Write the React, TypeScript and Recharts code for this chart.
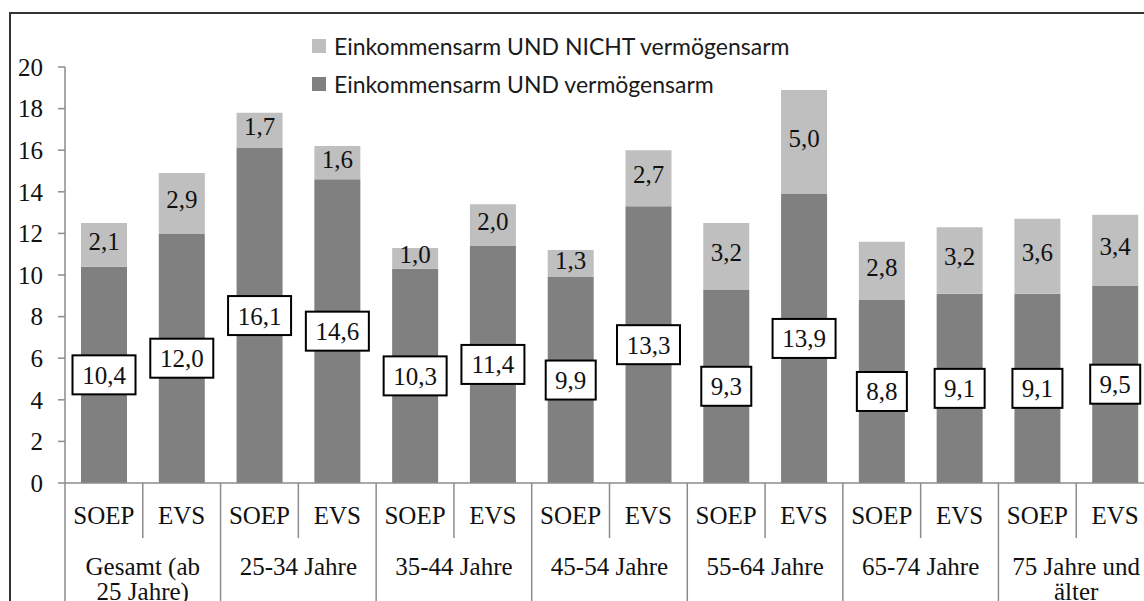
import React from 'react';
import { BarChart, Bar, XAxis, YAxis, Legend, LabelList } from 'recharts';

// Quelle je Altersgruppe: SOEP / EVS
const sources = ['SOEP', 'EVS', 'SOEP', 'EVS', 'SOEP', 'EVS', 'SOEP', 'EVS', 'SOEP', 'EVS', 'SOEP', 'EVS', 'SOEP', 'EVS'];
const ageGroups = [
  ['Gesamt (ab', '25 Jahre)'],
  ['25-34 Jahre'],
  ['35-44 Jahre'],
  ['45-54 Jahre'],
  ['55-64 Jahre'],
  ['65-74 Jahre'],
  ['75 Jahre und', 'älter'],
];
const armUndVermoegensarm = [10.4, 12.0, 16.1, 14.6, 10.3, 11.4, 9.9, 13.3, 9.3, 13.9, 8.8, 9.1, 9.1, 9.5];
const armNichtVermoegensarm = [2.1, 2.9, 1.7, 1.6, 1.0, 2.0, 1.3, 2.7, 3.2, 5.0, 2.8, 3.2, 3.6, 3.4];
const yTicks = [0, 2, 4, 6, 8, 10, 12, 14, 16, 18, 20];

const CHART_W = 1164;
const CHART_H = 601;
const Y_AXIS_W = 65;
const MARGIN_R = 10;
const SLOT = (CHART_W - Y_AXIS_W - MARGIN_R) / sources.length;

const SERIF = '"Liberation Serif", "Times New Roman", serif';
const DARK = '#808080';
const LIGHT = '#bfbfbf';
const LINE = '#8c8c8c';

const data = sources.map((src, i) => ({
  key: String(i),
  src,
  dark: armUndVermoegensarm[i],
  light: armNichtVermoegensarm[i],
}));

const fmt = (v: number) => v.toFixed(1).replace('.', ',');

const XTick = (props: any) => {
  const { x, y, payload } = props;
  const i = payload.index;
  const left = x - SLOT / 2;
  const right = x + SLOT / 2;
  const groupLines = ageGroups[Math.floor(i / 2)];
  return (
    <g>
      <text x={x} y={y + 41} textAnchor="middle" fontFamily={SERIF} fontSize={25} fill="#111">
        {sources[i]}
      </text>
      {i === 0 && <line x1={left} y1={y} x2={left} y2={y + 130} stroke={LINE} strokeWidth={1.5} />}
      {i % 2 === 0 ? (
        <line x1={right} y1={y} x2={right} y2={y + 55} stroke={LINE} strokeWidth={1.5} />
      ) : (
        <line x1={right} y1={y} x2={right} y2={y + 130} stroke={LINE} strokeWidth={1.5} />
      )}
      {i % 2 === 1 &&
        groupLines.map((ln, k) => (
          <text key={k} x={left} y={y + 92 + k * 25} textAnchor="middle" fontFamily={SERIF} fontSize={25} fill="#111">
            {ln}
          </text>
        ))}
    </g>
  );
};

const DarkLabel = (props: any) => {
  const { x, y, width, height, value } = props;
  const cx = Number(x) + Number(width) / 2;
  const cy = Number(y) + Number(height) / 2;
  const txt = fmt(Number(value));
  const bw = txt.length > 3 ? 63 : 50;
  const bh = 39;
  return (
    <g>
      <rect x={cx - bw / 2} y={cy - bh / 2} width={bw} height={bh} fill="#fff" stroke="#000" strokeWidth={2} />
      <text x={cx} y={cy + 9} textAnchor="middle" fontFamily={SERIF} fontSize={25} fill="#111">
        {txt}
      </text>
    </g>
  );
};

const LightLabel = (props: any) => {
  const { x, y, width, height, value } = props;
  const cx = Number(x) + Number(width) / 2;
  const cy = Number(y) + Number(height) / 2;
  return (
    <text x={cx} y={cy + 5} textAnchor="middle" fontFamily={SERIF} fontSize={25} fill="#111">
      {fmt(Number(value))}
    </text>
  );
};

const renderLegend = (props: any) => {
  const payload = props.payload || [];
  const items = ['light', 'dark']
    .map((k) => payload.find((p: any) => p.dataKey === k))
    .filter(Boolean);
  return (
    <div>
      {items.map((it: any) => (
        <div key={it.value} style={{ display: 'flex', alignItems: 'center', height: 38 }}>
          <div style={{ width: 14, height: 14, background: it.color, marginRight: 8 }} />
          <span style={{ fontFamily: 'Lato, sans-serif', fontSize: 23, color: '#1a1a1a', whiteSpace: 'nowrap' }}>
            {it.value}
          </span>
        </div>
      ))}
    </div>
  );
};

export default function App() {
  return (
    <div
      style={{
        position: 'absolute',
        left: 0,
        top: 0,
        width: 1144,
        height: 601,
        overflow: 'hidden',
        background: '#fff',
      }}
    >
      <div
        style={{
          position: 'absolute',
          left: 9,
          top: 12,
          width: 1300,
          height: 800,
          border: '2px solid #333',
        }}
      />
      <div style={{ position: 'absolute', left: 0, top: 0 }}>
        <BarChart
          width={CHART_W}
          height={CHART_H}
          data={data}
          margin={{ top: 67, right: MARGIN_R, bottom: 0, left: 0 }}
          barSize={46}
        >
          <XAxis
            dataKey="key"
            interval={0}
            height={118}
            tickSize={0}
            tickMargin={0}
            tickLine={false}
            tick={<XTick />}
            axisLine={{ stroke: LINE, strokeWidth: 1.5 }}
          />
          <YAxis
            width={Y_AXIS_W}
            domain={[0, 20]}
            ticks={yTicks}
            interval={0}
            tickSize={7}
            tickMargin={15}
            axisLine={{ stroke: LINE, strokeWidth: 1.5 }}
            tickLine={{ stroke: LINE, strokeWidth: 1.5 }}
            tick={{ fontFamily: SERIF, fontSize: 25, fill: '#111' }}
          />
          <Legend
            layout="horizontal"
            verticalAlign="middle"
            align="center"
            content={renderLegend}
            wrapperStyle={{ position: 'absolute', left: 312, top: 27, width: 600 }}
          />
          <Bar
            dataKey="dark"
            stackId="a"
            name="Einkommensarm UND vermögensarm"
            fill={DARK}
            isAnimationActive={false}
          >
            <LabelList dataKey="dark" content={<DarkLabel />} />
          </Bar>
          <Bar
            dataKey="light"
            stackId="a"
            name="Einkommensarm UND NICHT vermögensarm"
            fill={LIGHT}
            isAnimationActive={false}
          >
            <LabelList dataKey="light" content={<LightLabel />} />
          </Bar>
        </BarChart>
      </div>
    </div>
  );
}
